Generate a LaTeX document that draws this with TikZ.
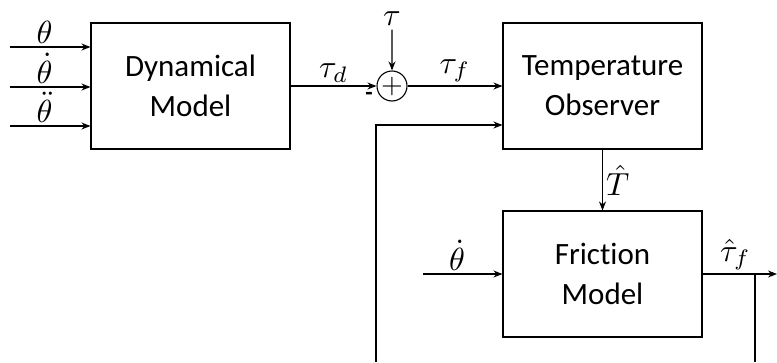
\documentclass[tikz,border=0pt]{standalone}
\usepackage{amsmath}
\usepackage{fontspec}
\setsansfont{Carlito}[Ligatures=NoCommon]
\usetikzlibrary{arrows.meta}

\begin{document}
\begin{tikzpicture}[x=1pt, y=-1pt, >={Stealth[length=9pt, width=7pt]}, line width=1.1pt,
  block/.style={draw, minimum width=199pt, minimum height=126pt, align=center,
    font=\sffamily\fontsize{31}{40}\selectfont},
  lbl/.style={scale=3.2, inner sep=0.6pt}]
\useasboundingbox (0,0) rectangle (777,362);

% the three blocks and the summing junction
\node[block] (dyn) at (190.5,86) {Dynamical\\Model};
\node[block] (obs) at (602.5,86) {Temperature\\Observer};
\node[block] (fric) at (602.5,274) {Friction\\Model};
\node[draw, circle, minimum size=30pt, inner sep=0pt] (sum) at (392,86) {\scalebox{2.8}{$+$}};
\node[font=\sffamily\bfseries\fontsize{24}{26}\selectfont] (minus) at (369,96) {-};

% inputs of the dynamical model
\coordinate (in1) at (10,47);
\coordinate (in2) at (10,87);
\coordinate (in3) at (10,126);
\draw[->] (in1) -- (in1 -| dyn.west) node[pos=0.43, above, lbl] {$\theta$};
\draw[->] (in2) -- (in2 -| dyn.west) node[pos=0.43, above, lbl] {$\dot{\theta}$};
\draw[->] (in3) -- (in3 -| dyn.west) node[pos=0.43, above, lbl] {$\ddot{\theta}$};

% torques into the junction and the observer
\node[lbl] (tau) at (392,19) {$\tau$};
\draw[->] (tau) -- (sum.north);
\draw[->] (dyn.east) -- (sum.west) node[midway, above, lbl] {$\tau_d$};
\draw[->] (sum.east) -- (obs.west) node[midway, above, lbl] {$\tau_f$};

% feedback from below into the observer
\coordinate (fbl) at (376,362);
\draw[->] (fbl) |- ([yshift=-39pt]obs.west);

% estimated temperature down to the friction model
\draw[->] (obs.south) -- (fric.north) node[midway, right, lbl] {$\hat{T}$};

% friction model input and output
\coordinate (fin) at (423,274);
\draw[->] (fin) -- (fric.west) node[pos=0.43, above, lbl] {$\dot{\theta}$};
\coordinate (out) at (777,274);
\draw[->] (fric.east) -- (out) node[pos=0.44, above, lbl] {$\hat{\tau}_f$};
\coordinate (br) at (755,274);
\coordinate (fbr) at (755,362);
\draw (br) -- (fbr);

\end{tikzpicture}
\end{document}
